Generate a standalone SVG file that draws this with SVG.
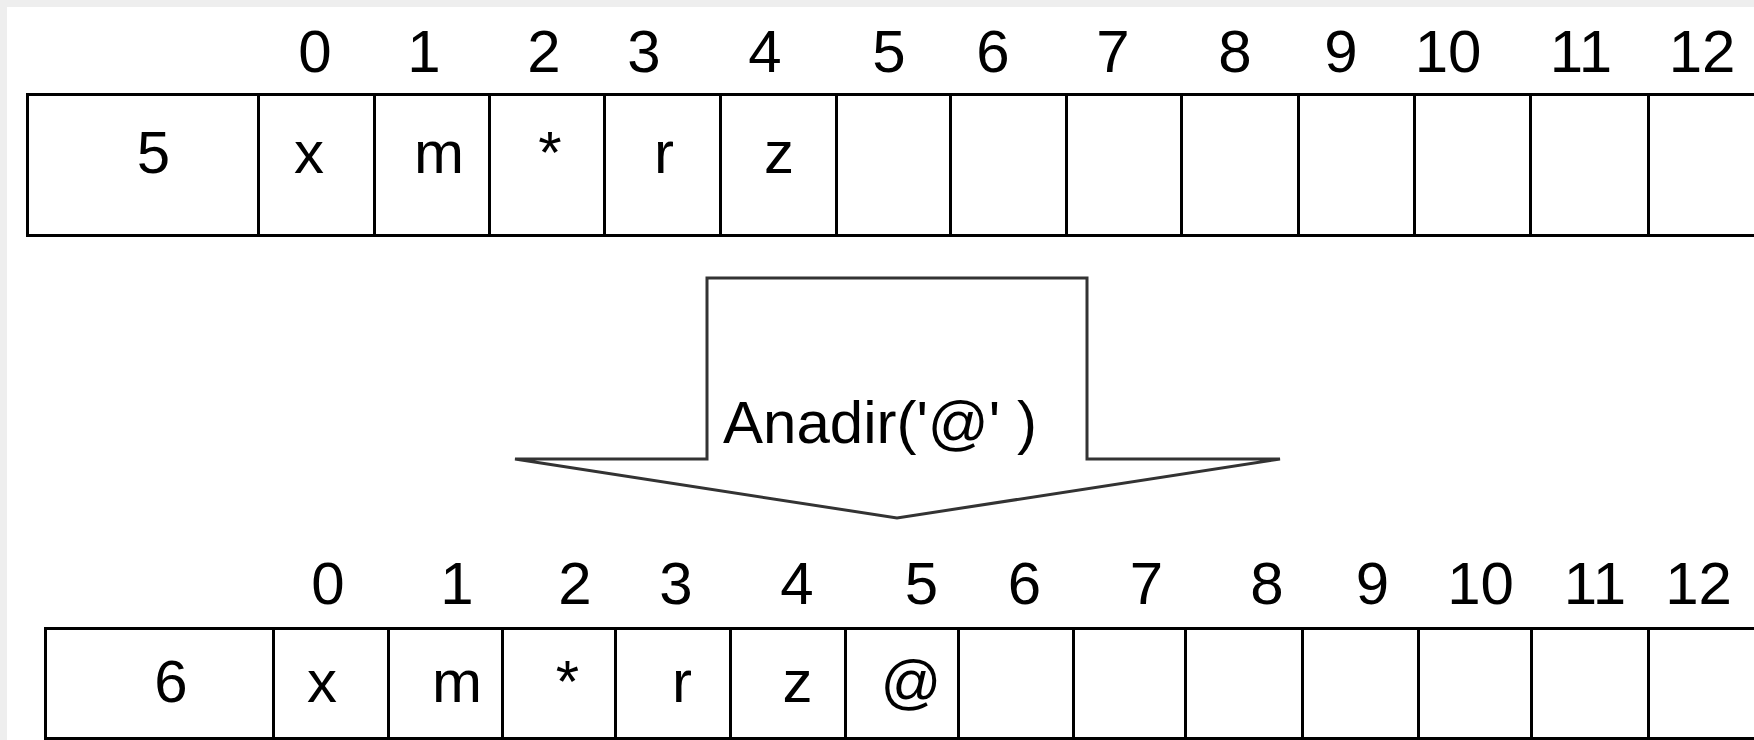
<svg xmlns="http://www.w3.org/2000/svg" width="1754" height="740" viewBox="0 0 1754 740">
<style>
.cell{fill:#ffffff;stroke:#000000;stroke-width:3}
.t{font-family:"Liberation Sans",Arial,sans-serif;font-size:60px;fill:#000000;text-anchor:middle}
.arrow{fill:#ffffff;stroke:#333333;stroke-width:3;stroke-linejoin:miter}
</style>
<rect x="0" y="0" width="1754" height="740" fill="#eeeeee"/>
<rect x="7" y="7" width="1747" height="733" fill="#ffffff"/>

<g id="top-indices">
<text class="t" x="315" y="72">0</text>
<text class="t" x="424" y="72">1</text>
<text class="t" x="544" y="72">2</text>
<text class="t" x="644" y="72">3</text>
<text class="t" x="765" y="72">4</text>
<text class="t" x="889" y="72">5</text>
<text class="t" x="993" y="72">6</text>
<text class="t" x="1113" y="72">7</text>
<text class="t" x="1235" y="72">8</text>
<text class="t" x="1341" y="72">9</text>
<text class="t" x="1448" y="72">10</text>
<text class="t" x="1581" y="72">11</text>
<text class="t" x="1702" y="72">12</text>
</g>

<g id="top-array">
<rect class="cell" x="27.5" y="94.5" width="231" height="141"/>
<rect class="cell" x="258.5" y="94.5" width="116" height="141"/>
<rect class="cell" x="374.5" y="94.5" width="115" height="141"/>
<rect class="cell" x="489.5" y="94.5" width="115" height="141"/>
<rect class="cell" x="604.5" y="94.5" width="116" height="141"/>
<rect class="cell" x="720.5" y="94.5" width="116" height="141"/>
<rect class="cell" x="836.5" y="94.5" width="114" height="141"/>
<rect class="cell" x="950.5" y="94.5" width="116" height="141"/>
<rect class="cell" x="1066.5" y="94.5" width="115" height="141"/>
<rect class="cell" x="1181.5" y="94.5" width="117" height="141"/>
<rect class="cell" x="1298.5" y="94.5" width="116" height="141"/>
<rect class="cell" x="1414.5" y="94.5" width="116" height="141"/>
<rect class="cell" x="1530.5" y="94.5" width="118" height="141"/>
<rect class="cell" x="1648.5" y="94.5" width="120" height="141"/>
<text class="t" x="153.5" y="173">5</text>
<text class="t" x="309" y="173">x</text>
<text class="t" x="439" y="173">m</text>
<text class="t" x="550" y="173">*</text>
<text class="t" x="664" y="173">r</text>
<text class="t" x="779" y="173">z</text>
</g>

<g id="connectors">
<polygon class="arrow" points="707,278 1087,278 1087,459 1280,459 897,518 515,459 707,459"/>
<text class="t" x="723" y="443" style="text-anchor:start">Anadir('@' )</text>
</g>

<g id="bottom-indices">
<text class="t" x="328" y="604">0</text>
<text class="t" x="457" y="604">1</text>
<text class="t" x="575" y="604">2</text>
<text class="t" x="676" y="604">3</text>
<text class="t" x="797" y="604">4</text>
<text class="t" x="921.5" y="604">5</text>
<text class="t" x="1024.5" y="604">6</text>
<text class="t" x="1146.5" y="604">7</text>
<text class="t" x="1267" y="604">8</text>
<text class="t" x="1372.5" y="604">9</text>
<text class="t" x="1480.5" y="604">10</text>
<text class="t" x="1595" y="604">11</text>
<text class="t" x="1698.5" y="604">12</text>
</g>

<g id="bottom-array">
<rect class="cell" x="45.5" y="628.5" width="228" height="110"/>
<rect class="cell" x="273.5" y="628.5" width="115" height="110"/>
<rect class="cell" x="388.5" y="628.5" width="114" height="110"/>
<rect class="cell" x="502.5" y="628.5" width="113" height="110"/>
<rect class="cell" x="615.5" y="628.5" width="115" height="110"/>
<rect class="cell" x="730.5" y="628.5" width="115" height="110"/>
<rect class="cell" x="845.5" y="628.5" width="113" height="110"/>
<rect class="cell" x="958.5" y="628.5" width="115" height="110"/>
<rect class="cell" x="1073.5" y="628.5" width="112" height="110"/>
<rect class="cell" x="1185.5" y="628.5" width="117" height="110"/>
<rect class="cell" x="1302.5" y="628.5" width="116" height="110"/>
<rect class="cell" x="1418.5" y="628.5" width="113" height="110"/>
<rect class="cell" x="1531.5" y="628.5" width="117" height="110"/>
<rect class="cell" x="1648.5" y="628.5" width="120" height="110"/>
<text class="t" x="171" y="702">6</text>
<text class="t" x="322" y="702">x</text>
<text class="t" x="457" y="702">m</text>
<text class="t" x="567.5" y="702">*</text>
<text class="t" x="682" y="702">r</text>
<text class="t" x="797.5" y="702">z</text>
<text class="t" x="911" y="702">@</text>
</g>
</svg>
